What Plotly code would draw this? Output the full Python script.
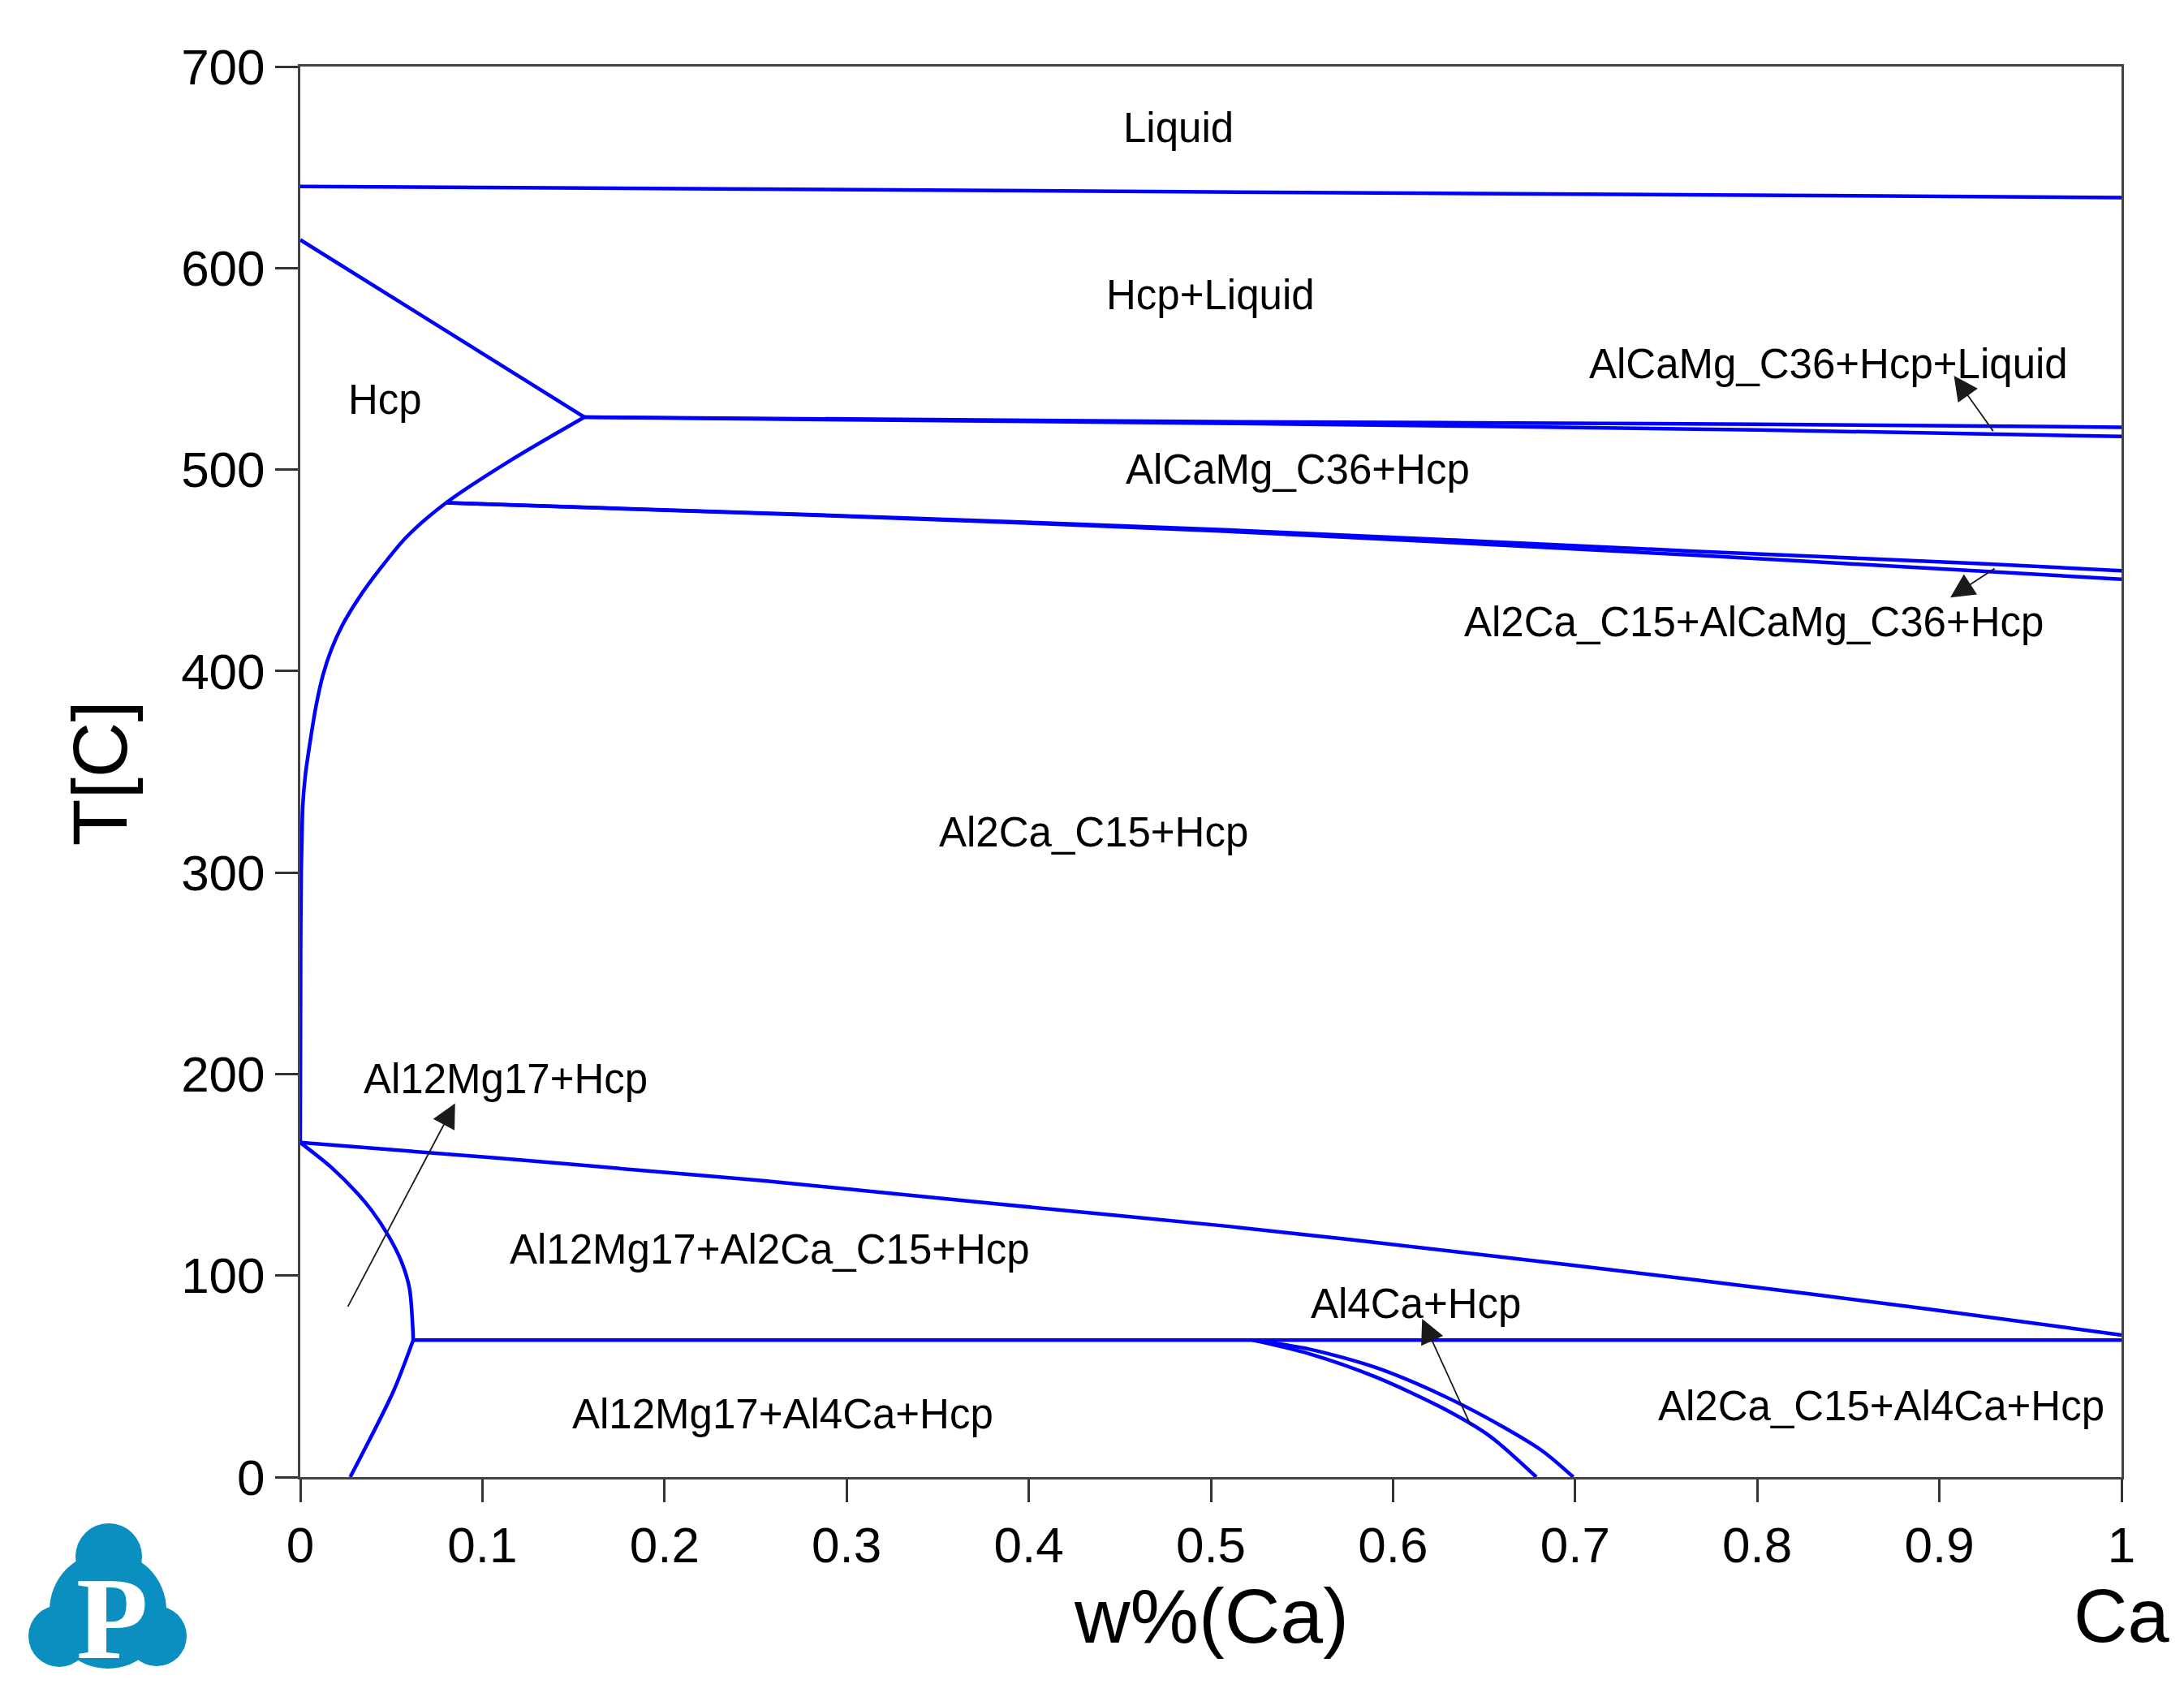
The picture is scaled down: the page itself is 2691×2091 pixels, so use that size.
import plotly.graph_objects as go

# phase boundaries, w%(Ca) vs T[C]
liquidus_x = [0, 0.5, 1]
liquidus_t = [640.5, 637.8, 635]

hcp_solidus_x = [0, 0.156]
hcp_solidus_t = [614, 526]

hcp_solvus_x = [0.156, 0.115, 0.0801, 0.0585, 0.0437, 0.0318, 0.0229, 0.0169, 0.0125, 0.0088,
                0.0058, 0.0028, 0.0013, 0.0009, 0.0005, 0.0002, 0]
hcp_solvus_t = [526, 504.3, 483.5, 466.7, 450.6, 435.8, 422.4, 410.3, 398.2, 383.4,
                367.3, 348.5, 332.4, 316.3, 300, 260, 166]

c36_upper_x = [0.156, 0.5, 0.8, 1]
c36_upper_t = [526, 523.8, 522.5, 521]
c36_lower_x = [0.156, 0.5, 0.8, 1]
c36_lower_t = [526, 523, 519.7, 516.4]

c15_upper_x = [0.0801, 0.3, 0.51, 0.765, 0.925, 1]
c15_upper_t = [483.5, 477, 470, 459.5, 453.2, 449.8]
c15_lower_x = [0.0801, 0.3, 0.51, 0.765, 0.925, 1]
c15_lower_t = [483.5, 476.8, 469.3, 457.5, 449.5, 445.6]

mg17_top_x = [0, 0.106, 0.2, 0.255, 0.383, 0.51, 0.638, 0.765, 0.893, 1]
mg17_top_t = [166, 158.5, 151.2, 147, 135.5, 124.4, 111.5, 98, 83.5, 70.5]

mg17_solvus_x = [0, 0.0169, 0.0318, 0.0392, 0.0481, 0.0556, 0.06, 0.0618, 0.062]
mg17_solvus_t = [166, 153.8, 140.4, 132.3, 120.2, 106.8, 93.4, 73.2, 68]
mg17_low_x = [0.062, 0.0511, 0.0274]
mg17_low_t = [68, 42.5, 0]

eutectoid_x = [0.062, 1]
eutectoid_t = [68, 68]

al4ca_right_x = [0.5228, 0.554, 0.5907, 0.6273, 0.6603, 0.6824, 0.699]
al4ca_right_t = [68, 63.5, 54.3, 40.5, 25, 12.7, 0]
al4ca_left_x = [0.5228, 0.554, 0.5907, 0.6273, 0.653, 0.6787]
al4ca_left_t = [68, 61.2, 49.6, 34.2, 20.4, 0]

boundaries = [
    (liquidus_x, liquidus_t), (hcp_solidus_x, hcp_solidus_t), (hcp_solvus_x, hcp_solvus_t),
    (c36_upper_x, c36_upper_t), (c36_lower_x, c36_lower_t),
    (c15_upper_x, c15_upper_t), (c15_lower_x, c15_lower_t),
    (mg17_top_x, mg17_top_t), (mg17_solvus_x, mg17_solvus_t), (mg17_low_x, mg17_low_t),
    (eutectoid_x, eutectoid_t),
    (al4ca_right_x, al4ca_right_t), (al4ca_left_x, al4ca_left_t),
]

# region labels
label_text = ["Liquid", "Hcp+Liquid", "AlCaMg_C36+Hcp+Liquid", "Hcp", "AlCaMg_C36+Hcp",
              "Al2Ca_C15+AlCaMg_C36+Hcp", "Al2Ca_C15+Hcp", "Al12Mg17+Hcp",
              "Al12Mg17+Al2Ca_C15+Hcp", "Al4Ca+Hcp", "Al12Mg17+Al4Ca+Hcp", "Al2Ca_C15+Al4Ca+Hcp"]
label_x = [0.4822, 0.4998, 0.839, 0.0465, 0.5475, 0.7983, 0.4356, 0.1126, 0.258, 0.6125, 0.2651, 0.8683]
label_t = [669.5, 586.5, 552.5, 534.5, 500, 424.5, 320, 197.5, 113, 86, 31.3, 35.2]

# arrows: head point and tail point
arrow_head_x = [0.908, 0.906, 0.085, 0.616]
arrow_head_t = [546.5, 436.5, 185.5, 78.5]
arrow_tail_x = [0.930, 0.931, 0.0258, 0.643]
arrow_tail_t = [518.5, 451.3, 84, 25]

FONT = "Arial, Liberation Sans, sans-serif"

fig = go.Figure()
for bx, bt in boundaries:
    fig.add_trace(go.Scatter(x=bx, y=bt, mode="lines",
                             line=dict(color="#0000ff", width=4.5, shape="spline", smoothing=0.8),
                             showlegend=False, hoverinfo="skip"))

for txt, lx, lt in zip(label_text, label_x, label_t):
    fig.add_annotation(x=lx, y=lt, xref="x", yref="y", text=txt, showarrow=False,
                       xanchor="center", yanchor="middle",
                       font=dict(family=FONT, size=51, color="black"))

for hx, ht, tx, tt in zip(arrow_head_x, arrow_head_t, arrow_tail_x, arrow_tail_t):
    fig.add_annotation(x=hx, y=ht, ax=tx, ay=tt, xref="x", yref="y", axref="x", ayref="y",
                       text="", showarrow=True, arrowhead=2, arrowsize=3.3, arrowwidth=1.8,
                       arrowcolor="#1a1a1a", standoff=0)

# axis titles
fig.add_annotation(x=0.5, y=-0.0985, xref="paper", yref="paper", text="w%(Ca)", showarrow=False,
                   xanchor="center", yanchor="middle",
                   font=dict(family=FONT, size=95, color="black"))
fig.add_annotation(x=1.0, y=-0.0985, xref="paper", yref="paper", text="Ca", showarrow=False,
                   xanchor="center", yanchor="middle",
                   font=dict(family=FONT, size=92, color="black"))
fig.add_annotation(x=-0.11, y=0.4986, xref="paper", yref="paper", text="T[C]", showarrow=False,
                   xanchor="center", yanchor="middle", textangle=-90,
                   font=dict(family=FONT, size=95, color="black"))

# logo: blue cloud with a white P
logo_blue = "#0b8ec0"
L, T0, PW, PH = 362, 74, 2244, 1738
def px_paper(px, py):
    return (px - L) / PW, (T0 + PH - py) / PH
for cx, cy, r in [(125, 1976, 72), (126, 1910, 41), (65, 2008, 38), (185, 2008, 37)]:
    ax_, ay_ = px_paper(cx, cy)
    fig.add_shape(type="circle", xref="paper", yref="paper", xsizemode="pixel", ysizemode="pixel",
                  xanchor=ax_, yanchor=ay_, x0=-r, x1=r, y0=-r, y1=r,
                  fillcolor=logo_blue, line=dict(width=0), layer="below")
px_, py_ = px_paper(130, 1986)
fig.add_annotation(x=px_, y=py_, xref="paper", yref="paper", text="<b>P</b>", showarrow=False,
                   xanchor="center", yanchor="middle",
                   font=dict(family="Liberation Serif, DejaVu Serif, serif", size=145, color="white"))

fig.update_xaxes(range=[0, 1], tickvals=[0, 0.1, 0.2, 0.3, 0.4, 0.5, 0.6, 0.7, 0.8, 0.9, 1],
                 ticktext=["0", "0.1", "0.2", "0.3", "0.4", "0.5", "0.6", "0.7", "0.8", "0.9", "1"],
                 ticks="outside", ticklen=28, tickwidth=2.5, tickcolor="#333",
                 showline=True, linecolor="#444", linewidth=3, mirror=True,
                 showgrid=False, zeroline=False, automargin=False,
                 tickfont=dict(family=FONT, size=62, color="black"))
fig.update_yaxes(range=[0, 700], tickvals=[0, 100, 200, 300, 400, 500, 600, 700],
                 ticks="outside", ticklen=28, tickwidth=2.5, tickcolor="#333",
                 showline=True, linecolor="#444", linewidth=3, mirror=True,
                 showgrid=False, zeroline=False, automargin=False,
                 tickfont=dict(family=FONT, size=62, color="black"))

fig.update_layout(width=2691, height=2091, margin=dict(l=362, r=85, t=74, b=279),
                  plot_bgcolor="white", paper_bgcolor="white", hovermode=False)

fig.write_html("out.html")
